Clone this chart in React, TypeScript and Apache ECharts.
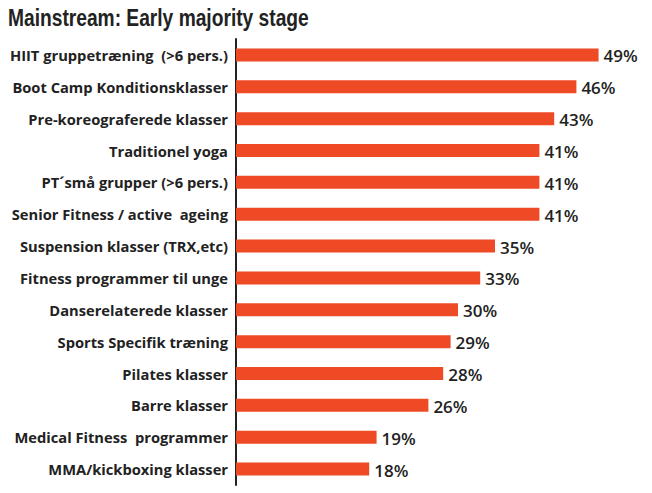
import React, { useEffect, useRef } from "react";
import * as echarts from "echarts";

const categories = [
  "HIIT gruppetræning  (>6 pers.)",
  "Boot Camp Konditionsklasser",
  "Pre-koreograferede klasser",
  "Traditionel yoga",
  "PT´små grupper (>6 pers.)",
  "Senior Fitness / active  ageing",
  "Suspension klasser (TRX,etc)",
  "Fitness programmer til unge",
  "Danserelaterede klasser",
  "Sports Specifik træning",
  "Pilates klasser",
  "Barre klasser",
  "Medical Fitness  programmer",
  "MMA/kickboxing klasser",
];
const values = [49, 46, 43, 41, 41, 41, 35, 33, 30, 29, 28, 26, 19, 18];
const title = "Mainstream: Early majority stage";

export default function App() {
  const ref = useRef<HTMLDivElement>(null);
  useEffect(() => {
    if (!ref.current) return;
    const chart = echarts.init(ref.current, null, { renderer: "svg" });
    chart.setOption({
      animation: false,
      backgroundColor: "#ffffff",
      graphic: [
        {
          type: "text",
          x: 8,
          y: 6,
          scaleX: 0.8,
          style: {
            text: title,
            fontFamily: "'Liberation Sans', Arial, sans-serif",
            fontWeight: "bold",
            fontSize: 24,
            fill: "#222222",
            textVerticalAlign: "top",
          },
        },
      ],
      grid: { left: 236, right: 9, top: 39, bottom: 8, containLabel: false },
      xAxis: {
        type: "value",
        min: 0,
        max: 55,
        show: false,
        splitLine: { show: false },
      },
      yAxis: {
        type: "category",
        data: categories,
        inverse: true,
        axisLine: { show: true, lineStyle: { color: "#222222", width: 2 } },
        axisTick: { show: false },
        axisLabel: {
          margin: 8,
          fontFamily: "'Open Sans', sans-serif",
          fontWeight: "bold",
          fontSize: 14.7,
          color: "#222222",
        },
      },
      series: [
        {
          type: "bar",
          data: values,
          barWidth: 13,
          itemStyle: { color: "#EE4A26" },
          label: {
            show: true,
            position: "right",
            distance: 5,
            offset: [0, 1],
            formatter: "{c}%",
            fontFamily: "'Open Sans', sans-serif",
            fontWeight: 600,
            fontSize: 17,
            color: "#222222",
          },
        },
      ],
    });
    return () => chart.dispose();
  }, []);
  return (
    <div
      ref={ref}
      style={{ position: "fixed", left: 0, top: 0, width: 652, height: 493 }}
    />
  );
}
